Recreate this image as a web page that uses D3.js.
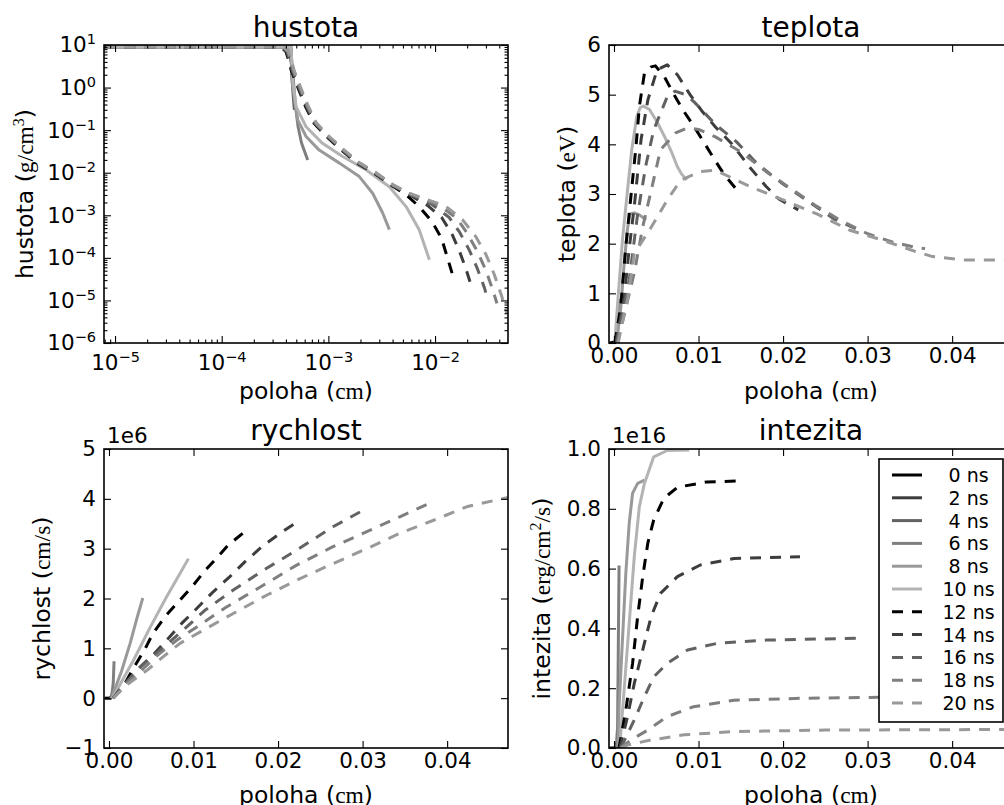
<!DOCTYPE html>
<html>
<head>
<meta charset="utf-8">
<script src="https://cdn.jsdelivr.net/npm/d3@7"></script>
<style>
  body { margin: 0; background: #fff; }
  svg { display: block; }
  text { font-family: "DejaVu Sans", sans-serif; fill: #000; }
  .unit { font-family: "Liberation Serif", serif; }
</style>
</head>
<body>
<svg id="fig" width="1004" height="805"></svg>
<script>
// ---- data -------------------------------------------------------------
// simulation snapshots (ns); 0-10 ns drawn solid, 12-20 ns dashed
const timesNs = [0, 2, 4, 6, 8, 10, 12, 14, 16, 18, 20];

// density profiles: [position cm, density g/cm^3]
const hustota = [
  [[7.9e-6, 9], [4.45e-4, 9], [4.5e-4, 4]],
  [[7.9e-6, 9], [4.4e-4, 9], [4.55e-4, 3], [4.6e-4, 1.2]],
  [[7.9e-6, 9], [4.35e-4, 9], [4.5e-4, 3.5], [4.65e-4, 0.8], [4.8e-4, 0.3]],
  [[7.9e-6, 9], [4.3e-4, 9], [4.5e-4, 5], [4.7e-4, 1.5], [4.9e-4, 0.4], [5.2e-4, 0.12], [5.6e-4, 0.05], [6.4e-4, 0.02]],
  [[7.9e-6, 9], [4.4e-4, 9], [4.55e-4, 3], [4.63e-4, 1.05], [5.16e-4, 0.174], [6.18e-4, 0.071], [8.2e-4, 0.034], [1.27e-3, 0.0168], [1.95e-3, 8.1e-3], [2.6e-3, 3.3e-3], [3.23e-3, 1.13e-3], [3.73e-3, 4.6e-4]],
  [[7.9e-6, 9], [4.45e-4, 9], [4.55e-4, 4], [4.63e-4, 1.5], [4.98e-4, 0.356], [6.18e-4, 0.12], [8.8e-4, 0.049], [1.36e-3, 0.024], [2.25e-3, 0.0117], [3.73e-3, 4.7e-3], [5.35e-3, 1.6e-3], [7.1e-3, 4.6e-4], [8.85e-3, 9e-5]],
  [[7.9e-6, 9], [3.6e-4, 9], [4.0e-4, 7], [4.3e-4, 4], [4.47e-4, 2.6], [5.2e-4, 0.98], [6.1e-4, 0.36], [7.3e-4, 0.148], [9.7e-4, 0.069], [1.33e-3, 0.034], [1.84e-3, 0.017], [2.66e-3, 0.0099], [3.83e-3, 5.2e-3], [5.3e-3, 3.1e-3], [7.1e-3, 1.6e-3], [9.4e-3, 7.0e-4], [0.0115, 2.9e-4], [0.013, 1.05e-4], [0.0146, 4.0e-5]],
  [[7.9e-6, 9], [3.65e-4, 9], [4.06e-4, 7], [4.36e-4, 4], [4.54e-4, 2.6], [5.28e-4, 0.98], [6.2e-4, 0.36], [7.4e-4, 0.148], [9.85e-4, 0.069], [1.35e-3, 0.034], [1.87e-3, 0.017], [2.7e-3, 0.0099], [3.89e-3, 5.2e-3], [5.38e-3, 3.36e-3], [8.5e-3, 1.7e-3], [0.0115, 9e-4], [0.0145, 3.5e-4], [0.017, 1.4e-4], [0.0195, 5.5e-5], [0.022, 2.1e-5]],
  [[7.9e-6, 9], [3.7e-4, 9], [4.12e-4, 7], [4.42e-4, 4], [4.61e-4, 2.6], [5.36e-4, 0.98], [6.3e-4, 0.36], [7.5e-4, 0.148], [1.0e-3, 0.069], [1.37e-3, 0.034], [1.9e-3, 0.017], [2.74e-3, 0.0099], [3.95e-3, 5.2e-3], [5.46e-3, 3.36e-3], [9.5e-3, 1.75e-3], [0.0135, 9e-4], [0.017, 4e-4], [0.021, 1.5e-4], [0.025, 5.5e-5], [0.029, 2e-5], [0.031, 1.1e-5]],
  [[7.9e-6, 9], [3.75e-4, 9], [4.18e-4, 7], [4.49e-4, 4], [4.68e-4, 2.6], [5.44e-4, 0.98], [6.4e-4, 0.36], [7.6e-4, 0.148], [1.015e-3, 0.069], [1.39e-3, 0.034], [1.93e-3, 0.017], [2.78e-3, 0.0099], [4.0e-3, 5.2e-3], [5.54e-3, 3.36e-3], [0.011, 1.7e-3], [0.016, 8.5e-4], [0.02, 3.8e-4], [0.025, 1.4e-4], [0.03, 5e-5], [0.035, 1.7e-5], [0.038, 8.5e-6]],
  [[7.9e-6, 9], [3.8e-4, 9], [4.24e-4, 7], [4.56e-4, 4], [4.75e-4, 2.6], [5.52e-4, 0.98], [6.5e-4, 0.36], [7.7e-4, 0.148], [1.03e-3, 0.069], [1.41e-3, 0.034], [1.96e-3, 0.017], [2.82e-3, 0.0099], [4.06e-3, 5.2e-3], [5.62e-3, 3.36e-3], [0.0125, 1.65e-3], [0.018, 8e-4], [0.024, 3.2e-4], [0.03, 1.2e-4], [0.036, 4e-5], [0.042, 1.3e-5], [0.047, 5e-6]]
];

// temperature profiles: [position cm, temperature eV]
const teplota = [
  [[-0.0005, 0], [0.0004, 0.03]],
  [[0.0001, 0], [0.0005, 0.15]],
  [[0.0002, 0], [0.0006, 0.5]],
  [[0.0003, 0], [0.0007, 0.9]],
  [[0.0003, 0], [0.0008, 0.7], [0.0012, 1.6], [0.0016, 2.3], [0.0019, 2.6], [0.0024, 2.62], [0.003, 2.58], [0.0038, 2.48]],
  [[0.0001, 0], [0.0004, 0.73], [0.001, 2.07], [0.0016, 3.08], [0.0021, 3.89], [0.0027, 4.56], [0.0031, 4.74], [0.0035, 4.77], [0.0042, 4.7], [0.0051, 4.45], [0.006, 4.15], [0.0068, 3.85], [0.0075, 3.55], [0.008, 3.4], [0.0086, 3.28]],
  [[0.0001, 0], [0.0008, 0.73], [0.0014, 1.94], [0.002, 2.95], [0.0026, 3.95], [0.003, 4.76], [0.0036, 5.43], [0.0044, 5.56], [0.0049, 5.58], [0.006, 5.35], [0.0071, 5.0], [0.0082, 4.68], [0.0094, 4.38], [0.0106, 4.05], [0.0118, 3.72], [0.013, 3.4], [0.0147, 3.05]],
  [[0.0002, 0], [0.0012, 0.9], [0.0018, 1.9], [0.0024, 2.75], [0.0032, 4.09], [0.004, 4.89], [0.0051, 5.5], [0.0063, 5.6], [0.0075, 5.4], [0.009, 5.0], [0.0105, 4.65], [0.012, 4.35], [0.014, 4.0], [0.016, 3.55], [0.018, 3.15], [0.0195, 2.9], [0.0218, 2.68]],
  [[0.0003, 0], [0.0018, 1.27], [0.0028, 2.6], [0.0038, 3.6], [0.0047, 4.29], [0.0063, 4.96], [0.0072, 5.07], [0.0085, 5.0], [0.0095, 4.85], [0.012, 4.4], [0.0145, 4.05], [0.017, 3.6], [0.02, 3.2], [0.023, 2.85], [0.026, 2.5], [0.029, 2.27]],
  [[0.0004, 0], [0.0024, 1.41], [0.0034, 2.34], [0.0046, 3.22], [0.0055, 3.89], [0.0073, 4.23], [0.0087, 4.33], [0.01, 4.3], [0.012, 4.15], [0.015, 3.85], [0.018, 3.45], [0.021, 3.1], [0.024, 2.75], [0.027, 2.45], [0.03, 2.2], [0.033, 2.03], [0.0355, 1.93], [0.0368, 1.9]],
  [[0.0005, 0], [0.0008, 0.26], [0.0016, 0.87], [0.0024, 1.8], [0.0044, 2.33], [0.0063, 2.88], [0.0079, 3.28], [0.0102, 3.45], [0.012, 3.48], [0.0161, 3.15], [0.02, 2.88], [0.024, 2.6], [0.0279, 2.27], [0.0318, 2.07], [0.0357, 1.84], [0.0377, 1.74], [0.0416, 1.67], [0.047, 1.67]]
];

// velocity profiles: [position cm, velocity in units of 1e6 cm/s]
const rychlost = [
  [[-0.0005, 0], [0.0003, 0]],
  [[0.0001, 0], [0.0004, 0.05]],
  [[0.0002, 0], [0.0005, 0.15]],
  [[0.0003, 0], [0.0005, 0.3], [0.0006, 0.74]],
  [[0.0003, 0], [0.0015, 0.55], [0.0025, 1.1], [0.0033, 1.6], [0.004, 2.01]],
  [[0.0004, 0], [0.0029, 0.76], [0.0049, 1.43], [0.0068, 2.03], [0.0084, 2.5], [0.0094, 2.8]],
  [[0.0005, 0], [0.0019, 0.3], [0.0031, 0.66], [0.0043, 1.0], [0.0052, 1.3], [0.0068, 1.67], [0.0084, 1.97], [0.0098, 2.23], [0.0114, 2.57], [0.0129, 2.84], [0.0141, 3.07], [0.0159, 3.32]],
  [[0.0005, 0], [0.0019, 0.3], [0.0037, 0.63], [0.0054, 0.9], [0.0068, 1.16], [0.0086, 1.5], [0.0102, 1.77], [0.0123, 2.13], [0.0143, 2.44], [0.0161, 2.74], [0.0183, 3.07], [0.0206, 3.35], [0.0226, 3.57]],
  [[0.0005, 0], [0.002, 0.3], [0.0033, 0.56], [0.0051, 0.83], [0.007, 1.1], [0.0088, 1.37], [0.0114, 1.77], [0.0147, 2.17], [0.0183, 2.57], [0.0222, 2.97], [0.0265, 3.44], [0.0305, 3.81]],
  [[0.0005, 0], [0.0021, 0.3], [0.0041, 0.6], [0.006, 0.9], [0.008, 1.16], [0.0104, 1.43], [0.0139, 1.83], [0.0179, 2.23], [0.0222, 2.67], [0.0265, 3.04], [0.0305, 3.34], [0.0344, 3.64], [0.0383, 3.94]],
  [[0.0005, 0], [0.0022, 0.28], [0.0045, 0.56], [0.0064, 0.83], [0.0084, 1.1], [0.0108, 1.33], [0.0147, 1.7], [0.0187, 2.07], [0.0226, 2.4], [0.0265, 2.7], [0.0305, 3.0], [0.0344, 3.31], [0.0384, 3.57], [0.0423, 3.84], [0.0472, 4.03]]
];

// radiation intensity profiles: [position cm, intensity in units of 1e16 erg/cm^2/s]
const intezita = [
  [[-0.0005, 0], [0.0003, 0]],
  [[0.0002, 0], [0.0003, 0.02]],
  [[0.0003, 0], [0.0004, 0.06]],
  [[0.0004, 0], [0.0005, 0.3], [0.0006, 0.61]],
  [[0.0005, 0], [0.0006, 0.138], [0.001, 0.361], [0.0014, 0.584], [0.0018, 0.752], [0.0022, 0.852], [0.0028, 0.885], [0.0036, 0.896]],
  [[0.0007, 0], [0.0008, 0.049], [0.0012, 0.194], [0.0018, 0.417], [0.0024, 0.64], [0.003, 0.807], [0.0036, 0.885], [0.0047, 0.974], [0.0063, 0.995], [0.0089, 0.997]],
  [[0.0006, 0], [0.0014, 0.127], [0.0022, 0.283], [0.0028, 0.44], [0.0034, 0.573], [0.004, 0.685], [0.0047, 0.763], [0.0059, 0.835], [0.0075, 0.872], [0.011, 0.89], [0.0149, 0.893]],
  [[0.0007, 0], [0.0016, 0.105], [0.0024, 0.216], [0.0034, 0.328], [0.0044, 0.44], [0.0055, 0.517], [0.0075, 0.573], [0.0102, 0.612], [0.0142, 0.634], [0.022, 0.64]],
  [[0.0008, 0], [0.0024, 0.094], [0.0036, 0.172], [0.0047, 0.238], [0.0063, 0.283], [0.0087, 0.328], [0.0122, 0.35], [0.0181, 0.361], [0.0289, 0.367]],
  [[0.0008, 0], [0.002, 0.027], [0.004, 0.06], [0.0063, 0.105], [0.0094, 0.138], [0.0142, 0.16], [0.022, 0.166], [0.038, 0.172]],
  [[0.0008, 0], [0.0016, 0.01], [0.0044, 0.027], [0.0083, 0.044], [0.0142, 0.055], [0.025, 0.06], [0.047, 0.062]]
];

// axis ticks
const linearXTicks = [0, 0.01, 0.02, 0.03, 0.04];
const densityXTicks = [1e-5, 1e-4, 1e-3, 1e-2];
const densityYTicks = [1e1, 1e0, 1e-1, 1e-2, 1e-3, 1e-4, 1e-5, 1e-6];
const temperatureTicks = [0, 1, 2, 3, 4, 5, 6];
const velocityTicks = [-1, 0, 1, 2, 3, 4, 5];
const intensityTicks = [0, 0.2, 0.4, 0.6, 0.8, 1.0];

// ---- styling ----------------------------------------------------------
const lineColors = ['#000000', '#3d3d3d', '#626262', '#7f7f7f', '#999999', '#b3b3b3',
                    '#000000', '#3d3d3d', '#626262', '#7f7f7f', '#999999'];
const DASH = '11,9';
const isDashed = t => t >= 12;
const TICK_FONT = 21.5, LABEL_FONT = 23.5, TITLE_FONT = 28, SUP_FONT = 14.5;

const svg = d3.select('#fig');
svg.append('rect').attr('width', 1004).attr('height', 805).attr('fill', '#fff');
const defs = svg.append('defs');

function styleAxis(g) {
  g.select('.domain').remove();
  g.selectAll('.tick line').attr('stroke', '#000').attr('stroke-width', 1.1);
  g.attr('font-size', TICK_FONT).attr('font-family', '"DejaVu Sans", sans-serif');
}

// writes 10^n using a raised tspan
function powerLabel(sel) {
  sel.each(function (d) {
    const t = d3.select(this);
    const e = Math.round(Math.log10(d));
    t.text('');
    t.append('tspan').text('10');
    t.append('tspan').attr('dy', -8).attr('font-size', SUP_FONT).text(String(e).replace('-', '\u2212'));
  });
}

// axis label "name (unit)" with the unit set in a serif face
function unitLabel(textSel, name, unitParts) {
  textSel.append('tspan').text(name + ' (');
  let lifted = 0;
  unitParts.forEach(p => {
    const sp = textSel.append('tspan').attr('class', 'unit');
    if (p.sup) { sp.attr('dy', -9).attr('font-size', 16); lifted += 9; }
    else if (lifted) { sp.attr('dy', lifted); lifted = 0; }
    sp.text(p.text);
  });
  const close = textSel.append('tspan');
  if (lifted) close.attr('dy', lifted);
  close.text(')');
}

function drawPanel(cfg) {
  const { left, top, width, height } = cfg.box;
  const g = svg.append('g').attr('transform', `translate(${left},${top})`);
  const x = cfg.xScale.range([0, width]);
  const y = cfg.yScale.range([height, 0]);

  const clipId = 'clip-' + cfg.id;
  defs.append('clipPath').attr('id', clipId)
    .append('rect').attr('width', width).attr('height', height);

  // curves
  const line = d3.line().x(d => x(d[0])).y(d => y(d[1]));
  const curves = g.append('g').attr('clip-path', `url(#${clipId})`);
  cfg.series.forEach((pts, i) => {
    curves.append('path')
      .attr('d', line(pts))
      .attr('fill', 'none')
      .attr('stroke', lineColors[i])
      .attr('stroke-width', 3)
      .attr('stroke-linejoin', 'round')
      .attr('stroke-dasharray', isDashed(timesNs[i]) ? DASH : null);
  });

  // ticks pointing inward on all four sides
  const MAJ = 7, MIN = 3.5;
  const bottom = g.append('g').attr('transform', `translate(0,${height})`)
    .call(d3.axisBottom(x).tickValues(cfg.xTicks).tickSize(-MAJ).tickPadding(cfg.xPad).tickFormat(cfg.xFormat));
  styleAxis(bottom);
  const leftAx = g.append('g')
    .call(d3.axisLeft(y).tickValues(cfg.yTicks).tickSize(-MAJ).tickPadding(8).tickFormat(cfg.yFormat));
  styleAxis(leftAx);
  const topAx = g.append('g').call(d3.axisTop(x).tickValues(cfg.xTicks).tickSize(-MAJ).tickFormat(''));
  styleAxis(topAx);
  const rightAx = g.append('g').attr('transform', `translate(${width},0)`)
    .call(d3.axisRight(y).tickValues(cfg.yTicks).tickSize(-MAJ).tickFormat(''));
  styleAxis(rightAx);

  if (cfg.xMinor) {
    [[d3.axisBottom, height], [d3.axisTop, 0]].forEach(([fn, off]) => {
      const a = g.append('g').attr('transform', `translate(0,${off})`)
        .call(fn(x).tickValues(cfg.xMinor).tickSize(-MIN).tickFormat(''));
      styleAxis(a);
    });
  }
  if (cfg.yMinor) {
    [[d3.axisLeft, 0], [d3.axisRight, width]].forEach(([fn, off]) => {
      const a = g.append('g').attr('transform', `translate(${off},0)`)
        .call(fn(y).tickValues(cfg.yMinor).tickSize(-MIN).tickFormat(''));
      styleAxis(a);
    });
  }
  if (cfg.logLabels) {
    bottom.selectAll('.tick text').call(powerLabel);
    leftAx.selectAll('.tick text').call(powerLabel);
  }

  // frame
  g.append('rect').attr('width', width).attr('height', height)
    .attr('fill', 'none').attr('stroke', '#000').attr('stroke-width', 1.6);

  // title
  g.append('text').attr('x', width / 2).attr('y', cfg.titleY - top)
    .attr('text-anchor', 'middle').attr('font-size', TITLE_FONT).text(cfg.title);

  // x label
  unitLabel(g.append('text').attr('x', width / 2).attr('y', cfg.xLabelY - top)
    .attr('text-anchor', 'middle').attr('font-size', LABEL_FONT), 'poloha', [{ text: 'cm' }]);

  // y label
  unitLabel(g.append('text')
    .attr('transform', `translate(${cfg.yLabelX - left},${height / 2}) rotate(-90)`)
    .attr('text-anchor', 'middle').attr('font-size', LABEL_FONT), cfg.yName, cfg.yUnit);

  if (cfg.offsetText) {
    g.append('text').attr('x', 3).attr('y', -6).attr('font-size', TICK_FONT).text(cfg.offsetText);
  }
  return g;
}

// minor ticks of the log axes
const minorX = [], minorY = [];
for (let e = -6; e <= -2; e++) for (let m = 2; m <= 9; m++) minorX.push(m * Math.pow(10, e));
for (let e = -6; e <= 0; e++) for (let m = 2; m <= 9; m++) minorY.push(m * Math.pow(10, e));

const linX = () => d3.scaleLinear().domain([-0.00059, 0.0472]);
const fmt2 = d3.format('.2f');

drawPanel({
  id: 'hustota', box: { left: 104, top: 45, width: 404, height: 298 },
  xScale: d3.scaleLog().domain([7.88e-6, 0.0483]), yScale: d3.scaleLog().domain([1e-6, 10]),
  xTicks: densityXTicks, yTicks: densityYTicks, xMinor: minorX.filter(v => v > 7.88e-6 && v < 0.0483), yMinor: minorY,
  xFormat: d => d, yFormat: d => d, xPad: 12, logLabels: true,
  series: hustota, title: 'hustota', titleY: 37, xLabelY: 399, yLabelX: 33,
  yName: 'hustota', yUnit: [{ text: 'g/cm' }, { text: '3', sup: true }]
});

drawPanel({
  id: 'teplota', box: { left: 609, top: 45, width: 404, height: 298 },
  xScale: linX(), yScale: d3.scaleLinear().domain([0, 6]),
  xTicks: linearXTicks, yTicks: temperatureTicks, xFormat: fmt2, yFormat: d3.format('d'), xPad: 5,
  series: teplota, title: 'teplota', titleY: 37, xLabelY: 399, yLabelX: 575,
  yName: 'teplota', yUnit: [{ text: 'eV' }]
});

drawPanel({
  id: 'rychlost', box: { left: 104, top: 449, width: 404, height: 299 },
  xScale: linX(), yScale: d3.scaleLinear().domain([-1, 5]),
  xTicks: linearXTicks, yTicks: velocityTicks, xFormat: fmt2, yFormat: d3.format('d'), xPad: 5,
  series: rychlost, title: 'rychlost', titleY: 440, xLabelY: 803, yLabelX: 50,
  yName: 'rychlost', yUnit: [{ text: 'cm/s' }], offsetText: '1e6'
});

drawPanel({
  id: 'intezita', box: { left: 609, top: 449, width: 404, height: 299 },
  xScale: linX(), yScale: d3.scaleLinear().domain([0, 1]),
  xTicks: linearXTicks, yTicks: intensityTicks, xFormat: fmt2, yFormat: d3.format('.1f'), xPad: 5,
  series: intezita, title: 'intezita', titleY: 440, xLabelY: 803, yLabelX: 550,
  yName: 'intezita', yUnit: [{ text: 'erg/cm' }, { text: '2', sup: true }, { text: '/s' }], offsetText: '1e16'
});

// legend in the intensity panel
const legend = svg.append('g').attr('transform', 'translate(879,459)');
legend.append('rect').attr('width', 124).attr('height', 263)
  .attr('fill', '#fff').attr('stroke', '#000').attr('stroke-width', 1.6);
timesNs.forEach((t, i) => {
  const cy = 16 + i * 22.8;
  legend.append('line').attr('x1', 13).attr('x2', 43).attr('y1', cy).attr('y2', cy)
    .attr('stroke', lineColors[i]).attr('stroke-width', 3)
    .attr('stroke-dasharray', isDashed(t) ? DASH : null);
  legend.append('text').attr('x', 63.5).attr('y', cy + 7).attr('font-size', 19)
    .style('white-space', 'pre').text((t < 10 ? ' ' : '') + t + ' ns');
});
</script>
</body>
</html>
